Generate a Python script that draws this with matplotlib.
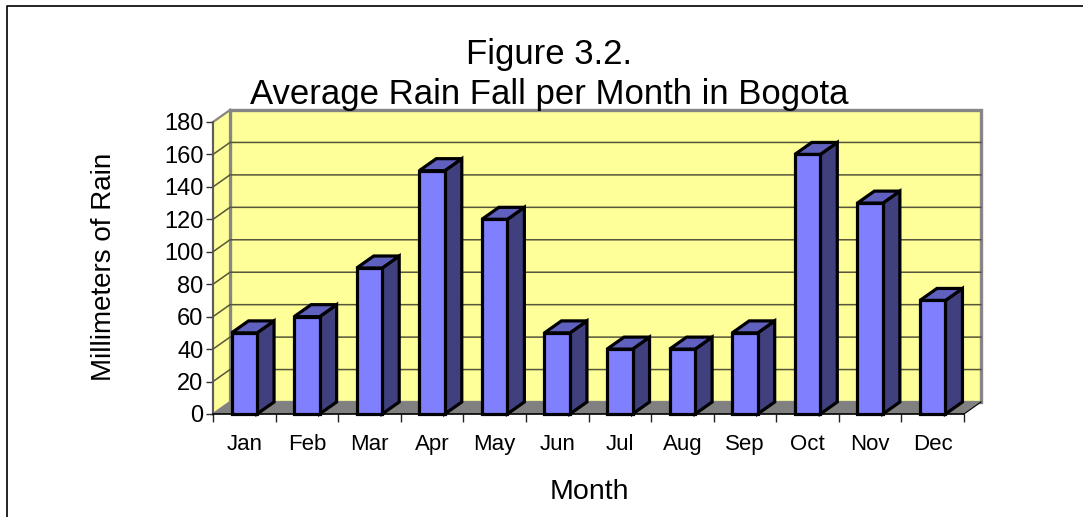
import numpy as np
import matplotlib
matplotlib.use("Agg")
import matplotlib.pyplot as plt
from matplotlib.patches import Polygon

plt.rcParams['font.family'] = ['Liberation Sans', 'DejaVu Sans']

months = ['Jan', 'Feb', 'Mar', 'Apr', 'May', 'Jun', 'Jul', 'Aug', 'Sep', 'Oct', 'Nov', 'Dec']
rain = [50, 60, 90, 150, 120, 50, 40, 40, 50, 160, 130, 70]
yticks = [0, 20, 40, 60, 80, 100, 120, 140, 160, 180]

W, H = 1083, 517
left, right, bottom, top = 213, 964, 414, 122

fig = plt.figure(figsize=(W / 100, H / 100), dpi=100)
ax = fig.add_axes([left / W, 1 - bottom / H, (right - left) / W, (bottom - top) / H])
ax.set_xlim(-0.5, 11.5)
ax.set_ylim(0, 180)
ax.patch.set_visible(False)
for s in ax.spines.values():
    s.set_visible(False)

# 3d offset, in data units
dx = 17 * 12 / (right - left)
dy = 12 * 180 / (bottom - top)
x0, x1 = -0.5, 11.5
bw = 25.5 * 12 / (right - left)

# walls and floor
ax.add_patch(Polygon([(x0 + dx, dy), (x1 + dx, dy), (x1 + dx, 180 + dy), (x0 + dx, 180 + dy)],
                     fc='#ffff99', ec='#868686', lw=2.4, clip_on=False, zorder=1, joinstyle='miter'))
ax.add_patch(Polygon([(x0, 0), (x0 + dx, dy), (x0 + dx, 180 + dy), (x0, 180)],
                     fc='#ffff99', ec='#868686', lw=1.6, clip_on=False, zorder=1))
ax.add_patch(Polygon([(x0, 0), (x1, 0), (x1 + dx, dy), (x0 + dx, dy)],
                     fc='#808080', ec='none', clip_on=False, zorder=1))
ax.plot([x1, x1 + dx], [0, dy], color='black', lw=0.8, clip_on=False, zorder=2)

# gridlines
for v in yticks[1:-1]:
    ax.plot([x0, x0 + dx, x1 + dx], [v, v + dy, v + dy], color='#55553c', lw=1.1, clip_on=False, zorder=2)

# bars
for i, v in enumerate(rain):
    a, b = i - bw / 2, i + bw / 2
    ax.add_patch(Polygon([(a, 0), (b, 0), (b, v), (a, v)], fc='#8080ff', ec='black', lw=2.3,
                         clip_on=False, zorder=5, joinstyle='miter'))
    ax.add_patch(Polygon([(b, 0), (b + dx, dy), (b + dx, v + dy), (b, v)], fc='#40407f', ec='black', lw=2.3,
                         clip_on=False, zorder=4, joinstyle='miter'))
    ax.add_patch(Polygon([(a, v), (b, v), (b + dx, v + dy), (a + dx, v + dy)], fc='#6060bf', ec='black', lw=2.3,
                         clip_on=False, zorder=4, joinstyle='miter'))

# axes lines and ticks
ax.plot([x0, x0], [0, 180], color='#555555', lw=1.2, clip_on=False, zorder=3)
ax.plot([x0, x1], [0, 0], color='black', lw=1.2, clip_on=False, zorder=3)

ax.set_yticks(yticks)
ax.tick_params(axis='y', length=5, width=1, labelsize=17, pad=2, color='#333333')
ax.set_xticks(np.arange(-0.5, 12, 1))
ax.set_xticklabels([])
ax.tick_params(axis='x', length=6, width=1, color='#222222')
ax.set_xticks(np.arange(12), months, minor=True)
ax.tick_params(axis='x', which='minor', length=0, labelsize=16, pad=14.5)

fig.text(549 / W, 1 - 54.5 / H, 'Figure 3.2.', fontsize=25, ha='center', va='center')
fig.text(549 / W, 1 - 94.5 / H, 'Average Rain Fall per Month in Bogota', fontsize=25, ha='center', va='center')
fig.text(104 / W, 1 - 267 / H, 'Millimeters of Rain', fontsize=20, rotation=90, ha='center', va='center')
fig.text(589 / W, 1 - 492 / H, 'Month', fontsize=20.5, ha='center', va='center')

# chart border
fig.add_artist(plt.Line2D([6.5 / W, 6.5 / W, 1], [0, 1 - 5.5 / H, 1 - 5.5 / H],
                          color='black', lw=1.2, transform=fig.transFigure))

fig.savefig('out.png', dpi=100)
